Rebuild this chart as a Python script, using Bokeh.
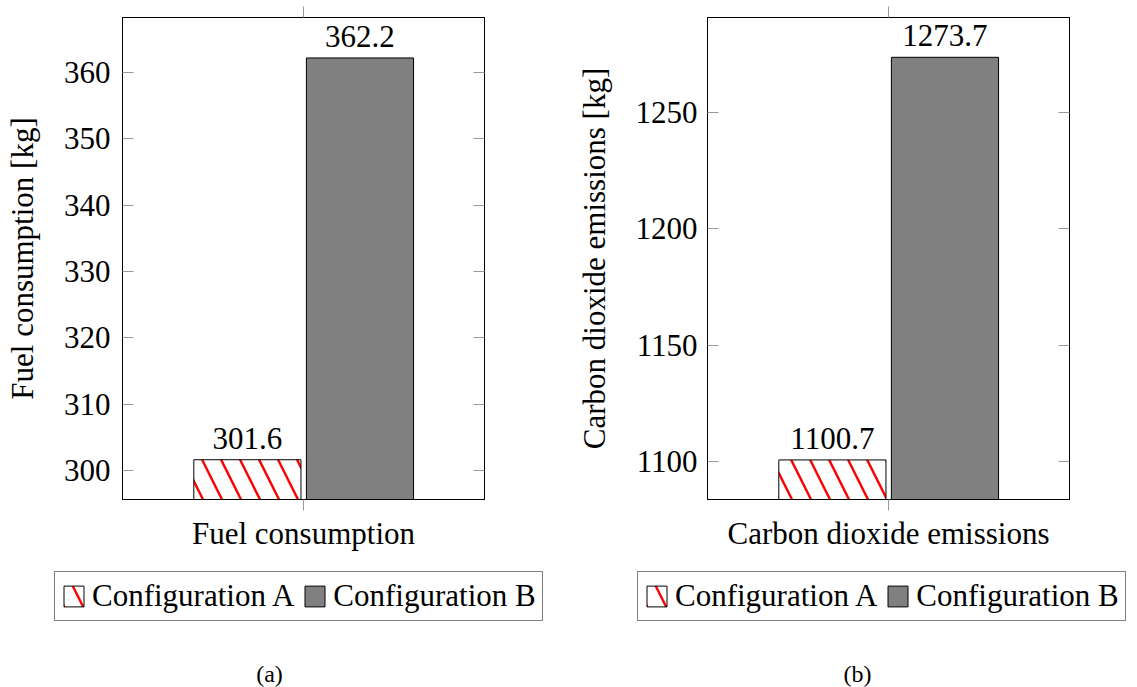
from bokeh.plotting import figure
from bokeh.layouts import row, column
from bokeh.models import (ColumnDataSource, FactorRange, Range1d, FixedTicker, LinearAxis,
                          CategoricalAxis, Legend, LegendItem, LabelSet, Label)
from bokeh.transform import dodge
from bokeh.embed import file_html
from bokeh.resources import INLINE

# ---- data ----
configs = ["Configuration A", "Configuration B"]
fuel_category = "Fuel consumption"
fuel_values = [301.6, 362.2]
fuel_labels = ["301.6", "362.2"]
fuel_ticks = [300, 310, 320, 330, 340, 350, 360]
fuel_ylabel = "Fuel consumption [kg]"

co2_category = "Carbon dioxide emissions"
co2_values = [1100.7, 1273.7]
co2_labels = ["1100.7", "1273.7"]
co2_ticks = [1100, 1150, 1200, 1250]
co2_ylabel = "Carbon dioxide emissions [kg]"

FONT = "Liberation Serif"
FS = "31px"
TICK_COLOR = "#999999"
BAR_A = dict(fill_color="white", line_color="black", line_width=1,
             hatch_pattern="\\", hatch_color="red", hatch_scale=38, hatch_weight=2.4)
BAR_B = dict(fill_color="#808080", line_color="black", line_width=1)


def make_panel(category, vals, labels, ticks, y_lo, y_hi, ylabel,
               width, border_left, border_right, label_standoff):
    p = figure(width=width, height=560, output_backend="svg", toolbar_location=None,
               x_range=FactorRange(factors=[category], range_padding=0),
               y_range=Range1d(y_lo, y_hi),
               min_border_left=border_left, min_border_right=border_right,
               min_border_top=17, min_border_bottom=61,
               x_axis_location=None, y_axis_location=None)
    p.background_fill_color = "white"
    p.border_fill_color = "white"
    p.outline_line_color = "black"
    p.outline_line_width = 1
    p.xgrid.visible = False
    p.ygrid.visible = False

    offsets = [-0.155, 0.156]
    src_a = ColumnDataSource(dict(x=[category], top=[vals[0]], lab=[labels[0]]))
    src_b = ColumnDataSource(dict(x=[category], top=[vals[1]], lab=[labels[1]]))
    p.vbar(x=dodge("x", offsets[0], range=p.x_range), top="top", bottom=y_lo, width=0.296,
           source=src_a, **BAR_A)
    p.vbar(x=dodge("x", offsets[1], range=p.x_range), top="top", bottom=y_lo, width=0.296,
           source=src_b, **BAR_B)

    for s, off in ((src_a, offsets[0]), (src_b, offsets[1])):
        ls = LabelSet(x=dodge("x", off, range=p.x_range), y="top", text="lab", source=s,
                      text_font=FONT, text_font_size=FS, text_align="center",
                      text_baseline="bottom", y_offset=11, text_color="black")
        p.add_layout(ls)

    # axes
    yl = LinearAxis(ticker=FixedTicker(ticks=ticks), axis_label=ylabel)
    yl.axis_line_color = "black"
    yl.major_tick_in = 11
    yl.major_tick_out = 0
    yl.major_tick_line_color = TICK_COLOR
    yl.minor_tick_line_color = None
    yl.major_label_standoff = label_standoff
    yl.major_label_text_font = FONT
    yl.major_label_text_font_size = FS
    yl.major_label_text_color = "black"
    yl.axis_label_text_font = FONT
    yl.axis_label_text_font_size = FS
    yl.axis_label_text_font_style = "normal"
    yl.axis_label_text_color = "black"
    yl.axis_label_standoff = 21
    p.add_layout(yl, "left")

    yr = LinearAxis(ticker=FixedTicker(ticks=ticks))
    yr.axis_line_color = "black"
    yr.major_tick_in = 11
    yr.major_tick_out = 0
    yr.major_tick_line_color = TICK_COLOR
    yr.minor_tick_line_color = None
    yr.major_label_overrides = {t: "" for t in ticks}
    yr.major_label_standoff = 0
    p.add_layout(yr, "right")

    xb = CategoricalAxis()
    xb.axis_line_color = "black"
    xb.major_tick_in = 0
    xb.major_tick_out = 11
    xb.major_tick_line_color = TICK_COLOR
    xb.major_label_standoff = 5
    xb.major_label_text_font = FONT
    xb.major_label_text_font_size = FS
    xb.major_label_text_color = "black"
    p.add_layout(xb, "below")

    xt = CategoricalAxis()
    xt.axis_line_color = "black"
    xt.major_tick_in = 0
    xt.major_tick_out = 11
    xt.major_tick_line_color = TICK_COLOR
    xt.major_label_text_color = None
    xt.major_label_text_font_size = "1px"
    xt.major_label_standoff = 0
    p.add_layout(xt, "above")
    return p, src_a, src_b


def make_legend_fig(width, category, vals, src_a, src_b, y_lo, legend_x, caption, caption_x):
    # legend strip: proxy bars share the chart's data and are scaled so that they sit
    # entirely underneath the opaque legend box
    h = 127
    scale = 43.0 / (max(vals) - y_lo)          # px per data unit
    start = y_lo - 69.0 / scale
    end = start + h / scale
    q = figure(width=width, height=h, output_backend="svg", toolbar_location=None,
               x_range=FactorRange(factors=[category]), y_range=Range1d(start, end),
               min_border=0, x_axis_location=None, y_axis_location=None)
    q.outline_line_color = None
    q.background_fill_color = "white"
    q.border_fill_color = "white"
    q.xgrid.visible = False
    q.ygrid.visible = False
    ra = q.vbar(x="x", top="top", bottom=y_lo, width=0.3, source=src_a, **BAR_A)
    rb = q.vbar(x="x", top="top", bottom=y_lo, width=0.3, source=src_b, **BAR_B)
    legend = Legend(items=[LegendItem(label=configs[0], renderers=[ra]),
                           LegendItem(label=configs[1], renderers=[rb])],
                    orientation="horizontal", location=(legend_x, 66))
    legend.border_line_color = "black"
    legend.border_line_width = 1
    legend.background_fill_color = "white"
    legend.background_fill_alpha = 1
    legend.label_text_font = FONT
    legend.label_text_font_size = FS
    legend.label_text_color = "black"
    legend.glyph_width = 25
    legend.glyph_height = 26
    legend.label_standoff = 6
    legend.spacing = 8
    legend.padding = 6
    legend.margin = 0
    q.add_layout(legend, "center")
    cap = Label(x=caption_x, y=14, x_units="screen", y_units="screen", text=caption,
                text_font=FONT, text_font_size="24px", text_align="center",
                text_baseline="middle", text_color="black")
    q.add_layout(cap)
    return q


p1, a1, b1 = make_panel(fuel_category, fuel_values, fuel_labels, fuel_ticks, 295.6, 368.3,
                        fuel_ylabel, 570, 122, 86, 12)
p2, a2, b2 = make_panel(co2_category, co2_values, co2_labels, co2_ticks, 1083.7, 1290.8,
                        co2_ylabel, 567, 137, 68, 10)
l1 = make_legend_fig(570, fuel_category, fuel_values, a1, b1, 295.6, 54, "(a)", 269)
l2 = make_legend_fig(567, co2_category, co2_values, a2, b2, 1083.7, 67, "(b)", 287)

layout = column(row(p1, p2, spacing=0), row(l1, l2, spacing=0), spacing=0)
open("out.html", "w").write(file_html(layout, INLINE))
